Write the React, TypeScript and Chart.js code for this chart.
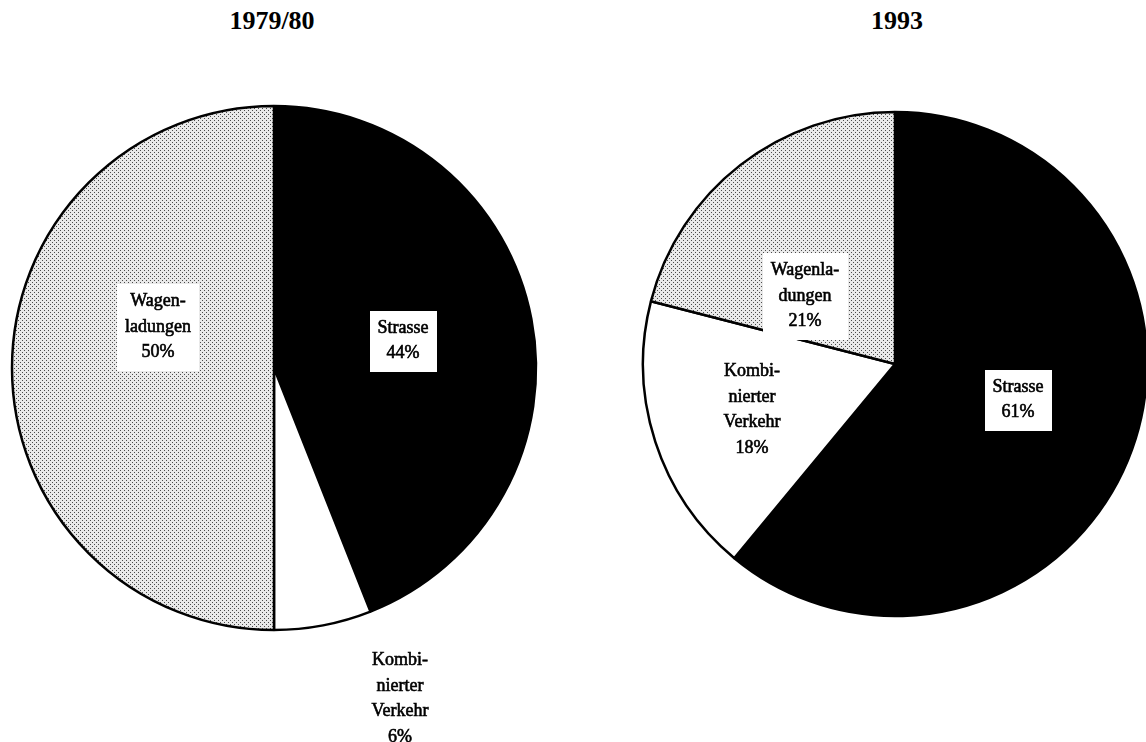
import React, { useEffect, useRef } from "react";
import { Chart, registerables } from "chart.js";

Chart.register(...registerables);

const titles = ["1979/80", "1993"];
const categories = ["Strasse", "Kombinierter Verkehr", "Wagenladungen"];
const values1980 = [44, 6, 50];
const values1993 = [61, 18, 21];
const labelLines1980 = [["Strasse", "44%"], ["Kombi-", "nierter", "Verkehr", "6%"], ["Wagen-", "ladungen", "50%"]];
const labelLines1993 = [["Strasse", "61%"], ["Kombi-", "nierter", "Verkehr", "18%"], ["Wagenla-", "dungen", "21%"]];

// label placement (offset from pie centre, px) and whether a white box is drawn
const labelLayout1980 = [
  { dx: 129, dy: -27, box: true },
  { dx: 126, dy: 331, box: false },
  { dx: -116, dy: -41, box: true },
];
const labelLayout1993 = [
  { dx: 123, dy: 36, box: true },
  { dx: -143, dy: 46, box: false },
  { dx: -90, dy: -68, box: true },
];

function makePattern(): CanvasPattern | string {
  const c = document.createElement("canvas");
  c.width = 4;
  c.height = 4;
  const g = c.getContext("2d");
  if (!g) return "#cccccc";
  g.fillStyle = "#e9e9e9";
  g.fillRect(0, 0, 4, 4);
  g.fillStyle = "#4a4a4a";
  g.fillRect(0, 0, 1, 1);
  g.fillRect(2, 2, 1, 1);
  const p = g.createPattern(c, "repeat");
  return p || "#cccccc";
}

const FONT = '18px "Liberation Serif", "DejaVu Serif", serif';
const LINE_H = 25.5;

function PieChart(props: {
  values: number[];
  lines: string[][];
  layout: { dx: number; dy: number; box: boolean }[];
  radius: number;
  size: number;
  padBottom: number;
  style: React.CSSProperties;
}) {
  const ref = useRef<HTMLCanvasElement | null>(null);
  useEffect(() => {
    if (!ref.current) return;
    const labelPlugin = {
      id: "sliceLabels",
      afterDatasetsDraw(chart: any) {
        const ctx = chart.ctx as CanvasRenderingContext2D;
        const meta = chart.getDatasetMeta(0);
        const arc = meta.data[0];
        const cx = arc.x;
        const cy = arc.y;
        ctx.save();
        ctx.font = FONT;
        ctx.textAlign = "center";
        ctx.textBaseline = "middle";
        props.layout.forEach((l, i) => {
          const lines = props.lines[i];
          const x = cx + l.dx;
          const y = cy + l.dy;
          const h = lines.length * LINE_H;
          if (l.box) {
            const w = Math.max(...lines.map((s) => ctx.measureText(s).width));
            ctx.fillStyle = "#ffffff";
            ctx.fillRect(Math.round(x - w / 2 - 8), Math.round(y - h / 2 - 5), Math.round(w + 16), Math.round(h + 10));
          }
          ctx.fillStyle = "#000000";
          ctx.strokeStyle = "#000000";
          ctx.lineWidth = 0.6;
          lines.forEach((s, j) => {
            const ty = y - h / 2 + LINE_H * (j + 0.5);
            ctx.fillText(s, x, ty);
            ctx.strokeText(s, x, ty);
          });
        });
        ctx.restore();
      },
    };
    const chart = new Chart(ref.current, {
      type: "pie",
      data: {
        labels: categories,
        datasets: [
          {
            data: props.values,
            backgroundColor: ["#000000", "#ffffff", makePattern()],
            borderColor: "#000000",
            borderWidth: 2.5,
            radius: props.radius,
          } as any,
        ],
      },
      options: {
        animation: false,
        responsive: false,
        layout: { padding: { bottom: props.padBottom } },
        plugins: {
          legend: { display: false },
          tooltip: { enabled: false },
          title: { display: false },
        },
      },
      plugins: [labelPlugin],
    });
    return () => chart.destroy();
  }, []);
  return (
    <canvas
      ref={ref}
      width={props.size}
      height={props.size + props.padBottom}
      style={{ position: "absolute", width: props.size, height: props.size + props.padBottom, ...props.style }}
    />
  );
}

export default function App() {
  const titleStyle: React.CSSProperties = {
    position: "absolute",
    top: 5,
    width: 200,
    textAlign: "center",
    font: 'bold 26px "Liberation Serif", serif',
    color: "#000",
    lineHeight: "32px",
  };
  return (
    <div
      style={{
        position: "absolute",
        left: 0,
        top: 0,
        width: 1146,
        height: 742,
        overflow: "hidden",
        background: "#ffffff",
      }}
    >
      <div style={{ ...titleStyle, left: 172 }}>{titles[0]}</div>
      <div style={{ ...titleStyle, left: 797 }}>{titles[1]}</div>
      <PieChart
        values={values1980}
        lines={labelLines1980}
        layout={labelLayout1980}
        radius={262}
        size={540}
        padBottom={104}
        style={{ left: 4, top: 98 }}
      />
      <PieChart
        values={values1993}
        lines={labelLines1993}
        layout={labelLayout1993}
        radius={252}
        size={520}
        padBottom={0}
        style={{ left: 635, top: 104 }}
      />
    </div>
  );
}
